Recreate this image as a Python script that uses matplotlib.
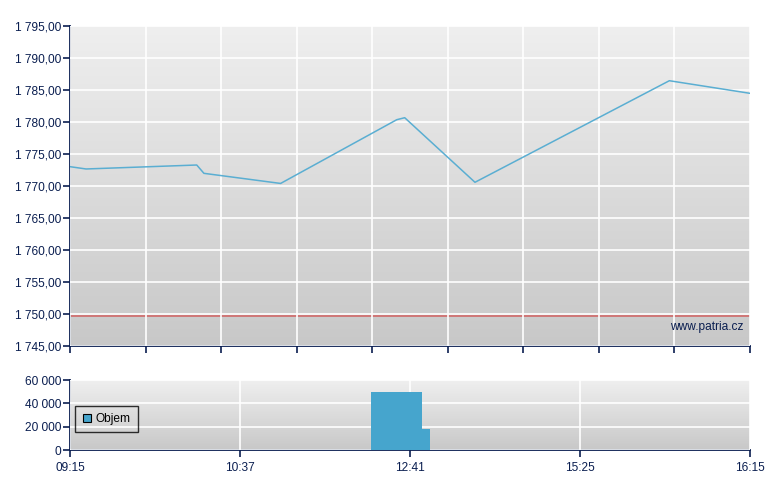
import matplotlib
matplotlib.use("Agg")
import matplotlib.pyplot as plt
import numpy as np

# price series (x in chart slots, 0..36 across the trading day)
price_x = [0, 0.85, 6.71, 7.09, 11.15, 17.30, 17.72, 21.44, 31.73, 36]
price_y = [1773.02, 1772.66, 1773.28, 1771.98, 1770.40, 1780.36, 1780.67, 1770.58, 1786.45, 1784.48]
prev_close = 1749.73

# volume bars
vol_start = [15.92, 18.62]
vol_end = [18.62, 19.06]
vol_value = [50000, 18000]

time_labels = ["09:15", "10:37", "12:41", "15:25", "16:15"]
price_ticks = [1745, 1750, 1755, 1760, 1765, 1770, 1775, 1780, 1785, 1790, 1795]
vol_ticks = [0, 20000, 40000, 60000]

navy = "#0a1e50"
line_col = "#5aaed2"
bar_col = "#46a5cd"

plt.rcParams['font.family'] = ['Liberation Sans', 'DejaVu Sans']
plt.rcParams['font.size'] = 8.6

fig = plt.figure(figsize=(7.8, 4.9), dpi=100)
W, H = 780, 490
ax = fig.add_axes([70 / W, 1 - 346 / H, 680 / W, 320 / H])
ax2 = fig.add_axes([70 / W, 1 - 450 / H, 680 / W, 70 / H])


def style(a):
    # gray gradient background
    grad = np.linspace(0, 1, 256).reshape(-1, 1)
    a.imshow(grad, extent=[0, 1, 0, 1], transform=a.transAxes, aspect='auto',
             cmap=matplotlib.colors.LinearSegmentedColormap.from_list("g", ["#efefef", "#c8c8c8"]),
             zorder=0)
    for s in ["top", "right"]:
        a.spines[s].set_visible(False)
    for s in ["left", "bottom"]:
        a.spines[s].set_color(navy)
        a.spines[s].set_linewidth(1.3)
    a.tick_params(colors=navy, direction='out', length=5, width=1.2, labelcolor=navy)
    a.tick_params(axis='y', pad=1.5)
    a.grid(True, color="white", linewidth=1.2, zorder=1)
    a.set_axisbelow(False)


# top price chart
style(ax)
ax.plot(price_x, price_y, color=line_col, linewidth=1.1, zorder=3)
ax.axhline(prev_close, color="#d07070", linewidth=1.3, zorder=2)
ax.set_xlim(0, 36)
ax.set_ylim(1745, 1795)
ax.set_xticks(np.arange(0, 37, 4))
ax.set_xticklabels([])
ax.set_yticks(price_ticks)
ax.set_yticklabels([f"1 {v - 1000:d},00" for v in price_ticks])
ax.text(0.99, 0.06, "www.patria.cz", transform=ax.transAxes, ha='right', va='center',
        color=navy, fontsize=8.6, zorder=4)

# bottom volume chart
style(ax2)
ax2.bar(vol_start, vol_value, width=np.array(vol_end) - np.array(vol_start), align='edge',
        color=bar_col, zorder=3, label="Objem")
ax2.set_xlim(0, 36)
ax2.set_ylim(0, 60000)
ax2.set_xticks(np.arange(0, 37, 9))
ax2.set_xticklabels(time_labels)
ax2.set_yticks(vol_ticks)
ax2.set_yticklabels(["0", "20 000", "40 000", "60 000"])
leg = ax2.legend(loc='center left', bbox_to_anchor=(0.008, 0.44), borderaxespad=0,
                 frameon=True, fancybox=False,
                 handlelength=0.7, handleheight=0.7, handletextpad=0.4, borderpad=0.6)
leg.get_frame().set_edgecolor("black")
leg.get_frame().set_facecolor("none")
leg.get_frame().set_linewidth(1.0)
leg.legend_handles[0].set_edgecolor("black")
leg.legend_handles[0].set_linewidth(0.8)

fig.savefig("out.png", dpi=100)
